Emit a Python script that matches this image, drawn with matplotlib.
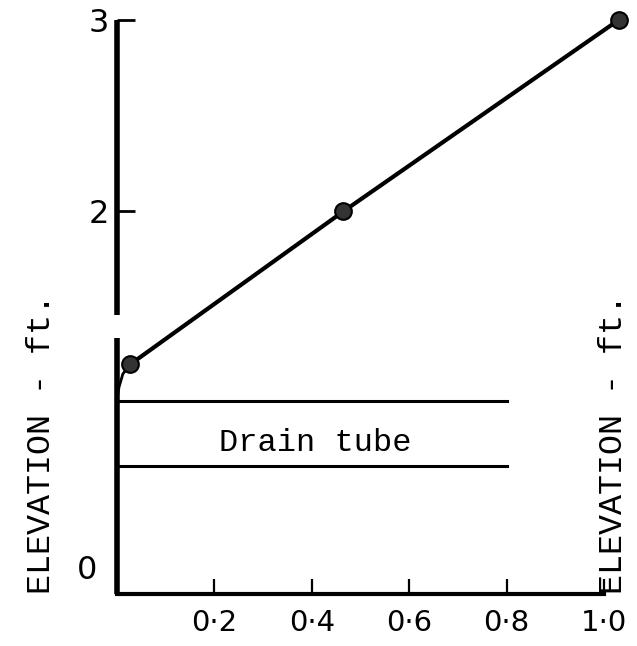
import matplotlib.pyplot as plt

# measured elevation points (distance fraction vs elevation in ft)
elev_x = [0.027, 0.465, 1.03]
elev_y = [1.20, 2.00, 3.00]

# short curved lead from the axis up to the first point
lead_x = [0.0, 0.004, 0.012, 0.027]
lead_y = [1.02, 1.08, 1.15, 1.20]

# drain tube boundaries
tube_top = 1.01
tube_bottom = 0.67
tube_end = 0.8

xticks = [0.2, 0.4, 0.6, 0.8, 1.0]
xlabels = ['0·2', '0·4', '0·6', '0·8', '1·0']
yticks = [2, 3]
ylabels = ['2', '3']
axis_gap = (1.34, 1.46)

mono = 'Liberation Mono'

fig = plt.figure(figsize=(6.37, 6.46), dpi=100)
ax = fig.add_axes([117 / 637, 52 / 646, 487 / 637, 574 / 646])
ax.set_xlim(0, 1.0)
ax.set_ylim(0, 3)

for s in ['top', 'right', 'left']:
    ax.spines[s].set_visible(False)
ax.spines['bottom'].set_linewidth(3)
ax.spines['bottom'].set_capstyle('projecting')

# y axis drawn in two pieces (gap in the scanned original)
ax.plot([0, 0], [0, axis_gap[0]], color='k', lw=4, solid_capstyle='butt', clip_on=False)
ax.plot([0, 0], [axis_gap[1], 3], color='k', lw=4, solid_capstyle='butt', clip_on=False)

ax.set_xticks(xticks)
ax.set_xticklabels(xlabels, fontsize=21, family='DejaVu Sans')
ax.set_yticks(yticks)
ax.set_yticklabels(ylabels, fontsize=23, family='DejaVu Sans')
ax.tick_params(axis='x', direction='in', length=11, width=1.6, pad=11)
ax.tick_params(axis='y', direction='in', length=13, width=2, pad=6)
ax.annotate('0', xy=(0, 0), xytext=(-14, 6), textcoords='offset points',
            ha='right', va='bottom', fontsize=23, family='DejaVu Sans')

# drain tube
ax.plot([0, tube_end], [tube_top, tube_top], color='k', lw=2.2)
ax.plot([0, tube_end], [tube_bottom, tube_bottom], color='k', lw=2.2)
ax.text(0.407, (tube_top + tube_bottom) / 2 - 0.05, 'Drain tube', ha='center', va='center',
        fontsize=23, family=mono)

# elevation line
ax.plot(lead_x, lead_y, color='k', lw=2, clip_on=False)
ax.plot(elev_x, elev_y, color='k', lw=3, marker='o', ms=12, mfc='#333333',
        mec='k', mew=1.5, clip_on=False)

fig.text(42 / 637, 1 - 444 / 646, 'ELEVATION - ft.', rotation=90, ha='center', va='center',
         fontsize=24, family=mono)
fig.text(613 / 637, 1 - 444 / 646, 'ELEVATION - ft.', rotation=90, ha='center', va='center',
         fontsize=24, family=mono)

fig.savefig('out.png', dpi=100)
